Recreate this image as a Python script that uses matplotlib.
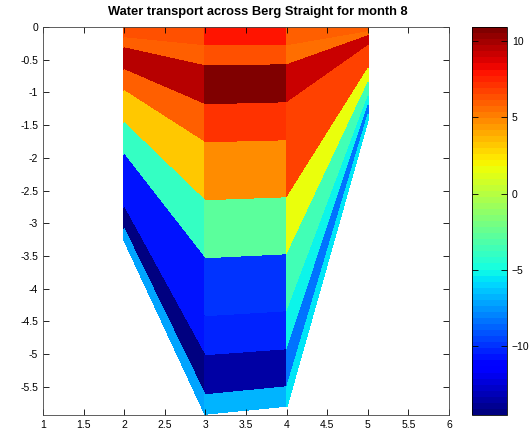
import numpy as np
import matplotlib.pyplot as plt

plt.rcParams['font.family'] = ['Liberation Sans', 'DejaVu Sans']

# station positions and bottom depth at each
x_nodes = [2, 3, 4, 5]
depth = [3.25, 5.92, 5.8, 1.42]
# sigma layer interfaces (fraction of local depth)
sigma = [0, 0.05, 0.10, 0.20, 0.30, 0.45, 0.60, 0.75, 0.85, 0.95, 1.0]

# transport per layer (rows, top->bottom) for the three cells between stations
transport = np.array([
    [6.5, 7.8, 6.1],
    [5.75, 6.5, 5.35],
    [9.7, 10.9, 9.3],
    [6.1, 6.95, 6.7],
    [3.15, 4.55, 6.6],
    [-3.8, -2.6, 1.4],
    [-10.9, -10.1, -3.4],
    [-10.9, -10.5, -5.0],
    [-14.5, -13.7, -8.2],
    [-7.0, -6.8, -5.7],
])

X = np.tile(x_nodes, (len(sigma), 1))
Y = -np.outer(sigma, depth)

fig = plt.figure(figsize=(5.32, 4.30), dpi=100)
ax = fig.add_axes([0.081, 0.035, 0.763, 0.902])
cax = fig.add_axes([0.887, 0.035, 0.066, 0.902])

jet = plt.get_cmap('jet', 64)
m = ax.pcolormesh(X, Y, transport, cmap=jet, vmin=transport.min(), vmax=transport.max(),
                  shading='flat', edgecolors='face', linewidth=0.3)

ax.set_xlim(1, 6)
ax.set_ylim(-5.93, 0)
ax.set_xticks(np.arange(1, 6.01, 0.5))
ax.set_xticklabels(['1', '1.5', '2', '2.5', '3', '3.5', '4', '4.5', '5', '5.5', '6'])
yt = np.arange(0, -5.51, -0.5)
ax.set_yticks(yt)
ax.set_yticklabels(['0', '-0.5', '-1', '-1.5', '-2', '-2.5', '-3', '-3.5', '-4', '-4.5', '-5', '-5.5'])
ax.tick_params(direction='in', top=True, right=True, labelsize=7.5, length=4, width=0.6)
for s in ax.spines.values():
    s.set_linewidth(0.6)
    s.set_color('#444444')
ax.set_title('Water transport across Berg Straight for month 8', fontsize=9.3,
             fontweight='bold', x=0.53, pad=9)

cb = fig.colorbar(m, cax=cax, ticks=[-10, -5, 0, 5, 10])
cb.ax.tick_params(direction='in', labelsize=7.5, length=4, width=0.6, left=True)
cb.outline.set_linewidth(0.6)

fig.savefig('out.png', dpi=100)
